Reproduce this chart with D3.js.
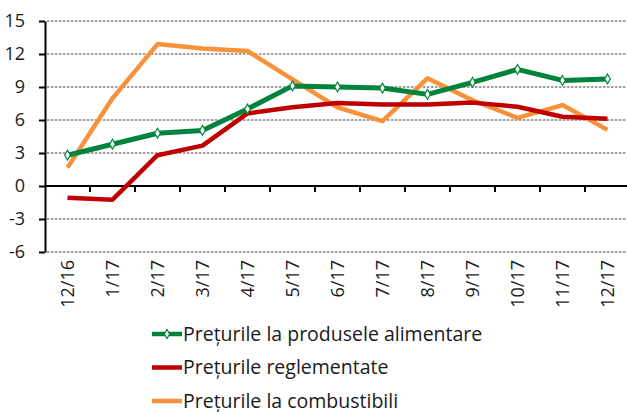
<!DOCTYPE html>
<meta charset="utf-8">
<style>
  body { margin: 0; background: #fff; }
  text { font-family: "Open Sans", sans-serif; fill: #1a1a1a; }
  .grid line { stroke: #808080; stroke-width: 1.6; stroke-dasharray: 2.5 1.5; }
  .axis path, .axis line { stroke: #000; stroke-width: 2; }
</style>
<body>
<svg width="627" height="412"></svg>
<script src="https://cdn.jsdelivr.net/npm/d3@7"></script>
<script>

var months = ["12/16","1/17","2/17","3/17","4/17","5/17","6/17","7/17","8/17","9/17","10/17","11/17","12/17"];

var alimentare   = [2.8, 3.8, 4.8, 5.05, 7.0, 9.1, 9.0, 8.9, 8.33, 9.42, 10.6, 9.6, 9.73];
var reglementate = [-1.06, -1.24, 2.8, 3.67, 6.6, 7.15, 7.55, 7.4, 7.4, 7.58, 7.2, 6.3, 6.12];
var combustibili = [1.67, 7.97, 12.9, 12.5, 12.27, 9.7, 7.15, 5.9, 9.79, 7.8, 6.2, 7.36, 5.1];

var yTicks = [15, 12, 9, 6, 3, 0, -3, -6];

var legendLabels = ["Prețurile la produsele alimentare", "Prețurile reglementate", "Prețurile la combustibili"];

var svg = d3.select("svg");

var x = d3.scaleBand()
    .domain(months)
    .range([45, 630]);

var y = d3.scaleLinear()
    .domain([-6, 15])
    .range([252, 21]);

// dashed gridlines
svg.append("g")
    .attr("class", "grid")
  .selectAll("line")
  .data(yTicks.filter(function(d) { return d !== 0; }))
  .enter().append("line")
    .attr("x1", 47)
    .attr("x2", 627)
    .attr("y1", function(d) { return y(d); })
    .attr("y2", function(d) { return y(d); });

// y axis
var yAxis = svg.append("g")
    .attr("class", "axis")
    .attr("transform", "translate(45,0)")
    .call(d3.axisLeft(y).tickValues(yTicks).tickSize(6).tickSizeOuter(0)
      .tickFormat(function(d) { return d < 0 ? "-" + Math.abs(d) : d; }));
yAxis.selectAll("text")
    .attr("font-size", "18px")
    .attr("x", -20)
    .style("font-family", "'Open Sans', sans-serif")
    .attr("fill", "#1a1a1a");

// zero line with ticks at band boundaries
var zero = svg.append("g").attr("class", "axis");
zero.append("line")
    .attr("x1", 45).attr("x2", 627)
    .attr("y1", y(0)).attr("y2", y(0));
zero.selectAll(".tk")
  .data(months.slice(1))
  .enter().append("line")
    .attr("class", "tk")
    .attr("x1", function(d) { return x(d); })
    .attr("x2", function(d) { return x(d); })
    .attr("y1", y(0))
    .attr("y2", y(0) + 6);

// x labels
svg.append("g")
  .selectAll("text")
  .data(months)
  .enter().append("text")
    .attr("transform", function(d) {
      return "translate(" + (x(d) + x.bandwidth() / 2 + 6.5) + ",260) rotate(-90)";
    })
    .attr("text-anchor", "end")
    .attr("font-size", "18px")
    .text(function(d) { return d; });

var line = d3.line()
    .x(function(d, i) { return x(months[i]) + x.bandwidth() / 2; })
    .y(function(d) { return y(d); });

var series = [
  { values: combustibili, color: "#f7923a", width: 4.5, markers: false },
  { values: reglementate, color: "#c00000", width: 4.5, markers: false },
  { values: alimentare, color: "#00843d", width: 5, markers: true }
];

series.forEach(function(s) {
  svg.append("path")
      .datum(s.values)
      .attr("fill", "none")
      .attr("stroke", s.color)
      .attr("stroke-width", s.width)
      .attr("stroke-linejoin", "round")
      .attr("d", line);
  if (s.markers) {
    svg.append("g")
      .selectAll("path")
      .data(s.values)
      .enter().append("path")
        .attr("d", d3.symbol(d3.symbolDiamond, 28))
        .attr("transform", function(d, i) {
          return "translate(" + (x(months[i]) + x.bandwidth() / 2) + "," + y(d) + ")";
        })
        .attr("fill", "#fff")
        .attr("stroke", s.color)
        .attr("stroke-width", 1.2);
  }
});

// legend
var legendColors = ["#00843d", "#c00000", "#f7923a"];
var legend = svg.selectAll(".legend")
    .data(legendLabels)
  .enter().append("g")
    .attr("class", "legend")
    .attr("transform", function(d, i) { return "translate(152," + (334 + i * 33.5) + ")"; });

legend.append("line")
    .attr("x1", 0).attr("x2", 30)
    .attr("stroke", function(d, i) { return legendColors[i]; })
    .attr("stroke-width", 4.5);

legend.filter(function(d, i) { return i === 0; })
  .append("path")
    .attr("d", d3.symbol(d3.symbolDiamond, 24))
    .attr("transform", "translate(15,0)")
    .attr("fill", "#fff")
    .attr("stroke", "#00843d")
    .attr("stroke-width", 1.2);

legend.append("text")
    .attr("x", 31)
    .attr("dy", "0.34em")
    .attr("font-size", "19.5px")
    .text(function(d) { return d; });

</script>
</body>
